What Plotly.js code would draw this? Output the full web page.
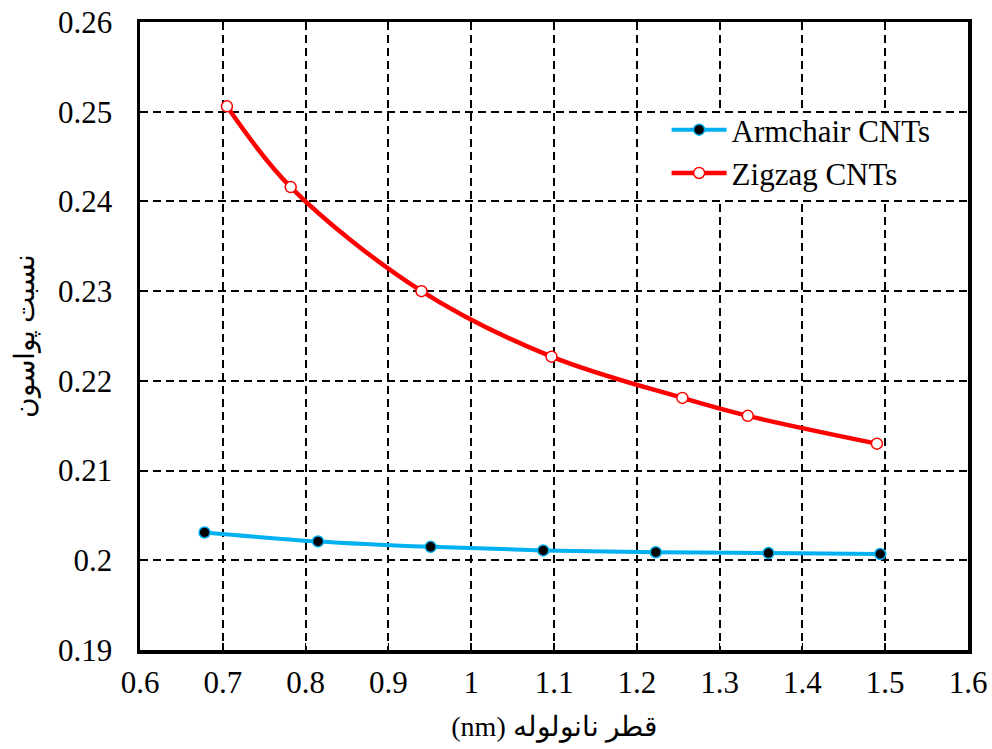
<!DOCTYPE html>
<html>
<head>
<meta charset="utf-8">
<script src="https://cdn.plot.ly/plotly-3.0.1.min.js"></script>
<style>html,body{margin:0;padding:0;background:#fff;}#chart{width:992px;height:749px;}</style>
</head>
<body>
<div id="chart"></div>
<script>
const armchairX = [0.678, 0.815, 0.951, 1.087, 1.223, 1.359, 1.494];
const armchairY = [0.2031, 0.2021, 0.2015, 0.2011, 0.2009, 0.2008, 0.2007];
const zigzagX = [0.705, 0.782, 0.940, 1.097, 1.255, 1.334, 1.490];
const zigzagY = [0.2506, 0.2416, 0.2300, 0.2227, 0.2181, 0.2161, 0.2130];
const xTicks = [0.6, 0.7, 0.8, 0.9, 1, 1.1, 1.2, 1.3, 1.4, 1.5, 1.6];
const yTicks = [0.19, 0.2, 0.21, 0.22, 0.23, 0.24, 0.25, 0.26];
const seriesNames = ['Armchair CNTs', 'Zigzag CNTs'];
const xTitle = '(nm) قطر نانولوله';
const yTitle = 'نسبت پواسون';

const font = 'Liberation Serif';

const traces = [
  {
    x: armchairX, y: armchairY, name: seriesNames[0], type: 'scatter', mode: 'lines+markers',
    line: {color: '#00b0f0', width: 4, shape: 'spline'},
    marker: {symbol: 'circle', size: 11, color: '#000', line: {color: '#00b0f0', width: 1.5}}
  },
  {
    x: zigzagX, y: zigzagY, name: seriesNames[1], type: 'scatter', mode: 'lines+markers',
    line: {color: '#ff0000', width: 4.5, shape: 'spline'},
    marker: {symbol: 'circle', size: 11, color: '#fff', line: {color: '#ff0000', width: 1.5}}
  }
];

const axisCommon = {
  showline: true, linecolor: '#000', linewidth: 3.5, mirror: true,
  showgrid: true, gridcolor: '#000', gridwidth: 2, griddash: '8px,5px',
  ticks: 'inside', ticklen: 7, tickwidth: 1.5, tickcolor: '#000',
  zeroline: false,
  tickfont: {family: font, size: 31, color: '#000'}
};

const layout = {
  width: 992, height: 749,
  margin: {l: 140, r: 24, t: 22, b: 99},
  paper_bgcolor: '#fff', plot_bgcolor: '#fff',
  font: {family: font, size: 31, color: '#000'},
  showlegend: true,
  legend: {
    x: 0.636, y: 0.871, xanchor: 'left', yanchor: 'top',
    bgcolor: 'rgba(255,255,255,0)', borderwidth: 0,
    font: {family: font, size: 31, color: '#000'},
    itemwidth: 55, tracegroupgap: 0
  },
  shapes: [{
    type: 'rect', xref: 'paper', yref: 'paper',
    x0: 0.607, x1: 0.996, y0: 0.718, y1: 0.854,
    fillcolor: 'rgb(255,255,255)', opacity: 1,
    line: {color: 'rgb(255,255,255)', width: 1}, layer: 'above'
  }],
  xaxis: Object.assign({}, axisCommon, {
    range: [0.6, 1.6], tickvals: xTicks, ticktext: xTicks.map(String),
    ticklabelstandoff: 2,
    title: {text: xTitle, font: {family: font, size: 28, color: '#000'}, standoff: 18}
  }),
  yaxis: Object.assign({}, axisCommon, {
    range: [0.19, 0.26], tickvals: yTicks, ticktext: yTicks.map(v => String(v)),
    ticklabelstandoff: 18,
    title: {text: yTitle, font: {family: font, size: 28, color: '#000'}, standoff: 16}
  })
};

Plotly.newPlot('chart', traces, layout, {displayModeBar: false, staticPlot: true});
</script>
</body>
</html>
